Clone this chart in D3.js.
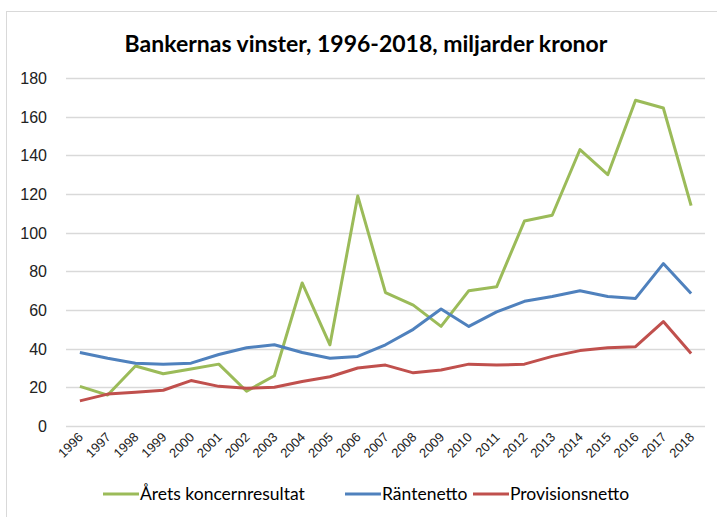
<!DOCTYPE html>
<html>
<head>
<meta charset="utf-8">
<script src="https://cdn.jsdelivr.net/npm/d3@7"></script>
<style>
  body { margin: 0; background: #fff; }
  svg { display: block; }
</style>
</head>
<body>
<div class="vis-line"></div>
<script>
const years = ['1996','1997','1998','1999','2000','2001','2002','2003','2004','2005','2006',
    '2007','2008','2009','2010','2011','2012','2013','2014','2015','2016','2017','2018'];
const koncernresultat = [20.5, 16, 31, 27, 29.5, 32, 18, 26, 74, 42, 119, 69, 62.5, 51.5, 70, 72,
    106, 109, 143, 130, 168.5, 164.5, 114];
const rantenetto = [38, 35, 32.5, 32, 32.5, 37, 40.5, 42, 38, 35, 36, 42, 50, 60.5, 51.5, 59,
    64.5, 67, 70, 67, 66, 84, 68.5];
const provisionsnetto = [13, 16.5, 17.5, 18.5, 23.5, 20.5, 19.5, 20, 23, 25.5, 30, 31.5, 27.5, 29,
    32, 31.5, 32, 36, 39, 40.5, 41, 54, 37.5];
const yTicks = [0, 20, 40, 60, 80, 100, 120, 140, 160, 180];

const series = [
    { name: 'Årets koncernresultat', values: koncernresultat, color: '#9bbb59' },
    { name: 'Räntenetto', values: rantenetto, color: '#4f81bd' },
    { name: 'Provisionsnetto', values: provisionsnetto, color: '#c0504d' }
];

const width = 717, height = 517;
const margin = { top: 78, right: 12, bottom: 91, left: 66 };

const svg = d3.select('.vis-line')
    .append('svg')
    .attr('width', width)
    .attr('height', height);

// outer frame
svg.append('rect')
    .attr('x', 6.5).attr('y', 11.5)
    .attr('width', 740).attr('height', 540)
    .attr('fill', 'none')
    .attr('stroke', '#d9d9d9');

svg.append('text')
    .text('Bankernas vinster, 1996-2018, miljarder kronor')
    .attr('x', 366)
    .attr('y', 52)
    .attr('text-anchor', 'middle')
    .attr('font-family', 'Lato, sans-serif')
    .attr('font-size', '23px')
    .attr('font-weight', 'bold')
    .attr('fill', '#000');

const x = d3.scaleBand()
    .domain(years)
    .range([margin.left, width - margin.right]);

const y = d3.scaleLinear()
    .domain([0, 180])
    .range([height - margin.bottom, margin.top]);

// grid
svg.append('g')
    .selectAll('line')
    .data(yTicks)
    .join('line')
    .attr('x1', margin.left)
    .attr('x2', width - margin.right)
    .attr('y1', d => Math.round(y(d)) + 0.5)
    .attr('y2', d => Math.round(y(d)) + 0.5)
    .attr('stroke', '#d9d9d9')
    .attr('stroke-width', 1.5);

// y labels
svg.append('g')
    .selectAll('text')
    .data(yTicks)
    .join('text')
    .text(d => d)
    .attr('x', 47)
    .attr('y', d => y(d) + 6)
    .attr('text-anchor', 'end')
    .attr('font-family', 'Liberation Sans, Arial, sans-serif')
    .attr('font-size', '16px')
    .attr('fill', '#222');

// x labels
svg.append('g')
    .selectAll('text')
    .data(years)
    .join('text')
    .text(d => d)
    .attr('transform', d => 'translate(' + (x(d) + x.bandwidth() / 2 + 4) + ',' + (height - margin.bottom + 12) + ') rotate(-45)')
    .attr('text-anchor', 'end')
    .attr('font-family', 'Liberation Sans, Arial, sans-serif')
    .attr('font-size', '13px')
    .attr('fill', '#222');

const line = d3.line()
    .x((d, i) => x(years[i]) + x.bandwidth() / 2)
    .y(d => y(d));

svg.append('g')
    .selectAll('path')
    .data(series)
    .join('path')
    .attr('d', d => line(d.values))
    .attr('fill', 'none')
    .attr('stroke', d => d.color)
    .attr('stroke-width', 3)
    .attr('stroke-linejoin', 'round');

// legend
const legendX = [103, 345, 473];
const legend = svg.append('g')
    .selectAll('g')
    .data(series)
    .join('g')
    .attr('transform', (d, i) => 'translate(' + legendX[i] + ',494)');

legend.append('line')
    .attr('x1', 0).attr('x2', 36)
    .attr('y1', 0).attr('y2', 0)
    .attr('stroke', d => d.color)
    .attr('stroke-width', 3);

legend.append('text')
    .text(d => d.name)
    .attr('x', 37)
    .attr('y', 6)
    .attr('font-family', 'Lato, sans-serif')
    .attr('font-size', '17.5px')
    .attr('fill', '#000');
</script>
</body>
</html>
